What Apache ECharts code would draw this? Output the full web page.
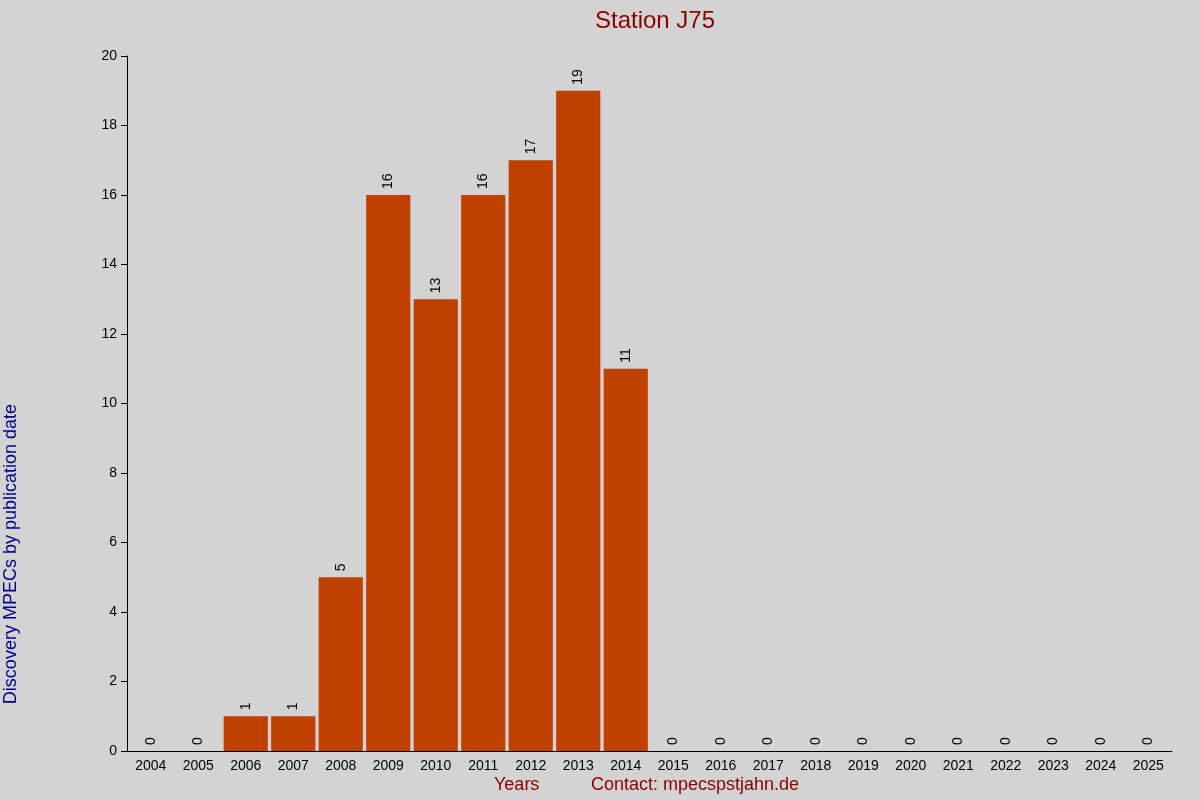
<!DOCTYPE html>
<html><head><meta charset="utf-8">
<script src="https://cdn.jsdelivr.net/npm/echarts@6/dist/echarts.min.js"></script>
<style>html,body{margin:0;background:#d3d3d3}#c{width:1200px;height:800px}</style>
</head><body><div id="c"></div>
<script>
const years = ['2004','2005','2006','2007','2008','2009','2010','2011','2012','2013','2014','2015','2016','2017','2018','2019','2020','2021','2022','2023','2024','2025'];
const counts = [0,0,1,1,5,16,13,16,17,19,11,0,0,0,0,0,0,0,0,0,0,0];
const yTicks = {min:0, max:20, interval:2};
const chart = echarts.init(document.getElementById('c'));
chart.setOption({
  backgroundColor:'#d3d3d3',
  animation:false,
  title:{text:'Station J75', left:650, top:4, textAlign:'center',
    textStyle:{color:'#8b0000', fontSize:24, fontWeight:'normal', fontFamily:'Liberation Sans'}},
  grid:{left:127, right:28, top:56, bottom:49},
  xAxis:{type:'category', data:years,
    axisLine:{lineStyle:{color:'#000'}}, axisTick:{show:false},
    axisLabel:{color:'#000', fontSize:14, fontFamily:'Liberation Sans', margin:8}},
  yAxis:{type:'value', min:yTicks.min, max:yTicks.max, interval:yTicks.interval,
    axisLine:{show:true, lineStyle:{color:'#000'}},
    axisTick:{show:true, length:6, lineStyle:{color:'#000'}},
    splitLine:{show:false},
    axisLabel:{color:'#000', fontSize:14, fontFamily:'Liberation Sans', margin:10}},
  series:[{type:'bar', data:counts, barCategoryGap:'7%',
    itemStyle:{color:'#c04000'},
    label:{show:true, position:'top', rotate:90, align:'left', verticalAlign:'middle', distance:6,
      color:'#000', fontSize:14, fontFamily:'Liberation Sans'}}],
  graphic:[
    {type:'text', left:2, top:404, rotation:Math.PI/2, style:{text:'Discovery MPECs by publication date', fill:'#00008b', font:'18px Liberation Sans', textAlign:'center', textVerticalAlign:'top'}, x:2, y:404, position:[2,404]},
    {type:'text', left:494, top:776, style:{text:'Years', fill:'#8b0000', font:'18px Liberation Sans'}},
    {type:'text', left:591, top:776, style:{text:'Contact: mpecspstjahn.de', fill:'#8b0000', font:'18px Liberation Sans'}}
  ]
});
</script></body></html>
